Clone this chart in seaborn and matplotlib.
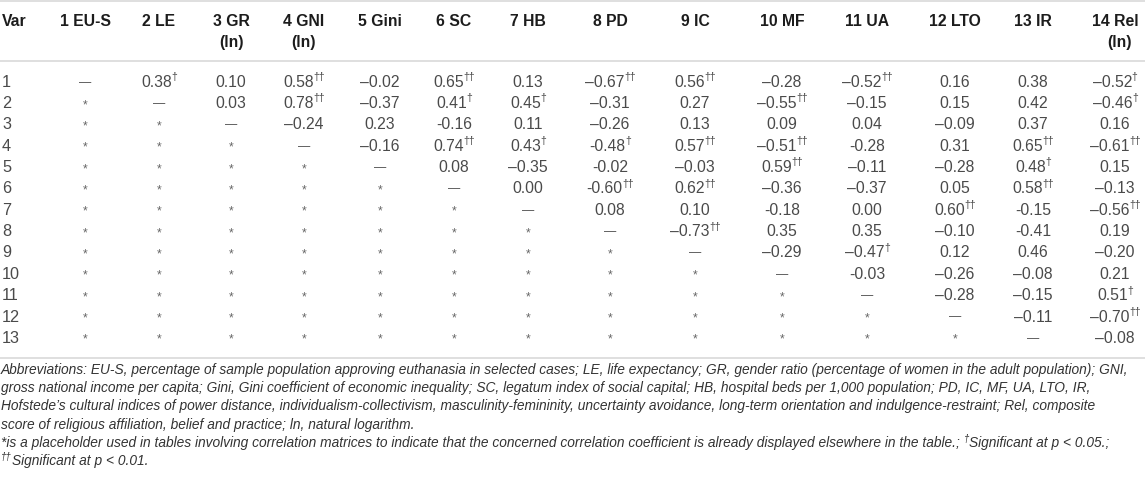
import matplotlib
matplotlib.use("Agg")
import matplotlib.pyplot as plt
import seaborn as sns

sns.set_theme(style="white")
plt.rcParams['font.family'] = ['Liberation Sans', 'DejaVu Sans']

# ---------------- data ----------------
var_labels = [str(i) for i in range(1, 14)]
col_labels = ["1 EU-S", "2 LE", "3 GR", "4 GNI", "5 Gini", "6 SC", "7 HB",
              "8 PD", "9 IC", "10 MF", "11 UA", "12 LTO", "13 IR", "14 Rel"]
col_sub = ["", "", "(ln)", "(ln)", "", "", "", "", "", "", "", "", "", "(ln)"]

# upper-triangle correlations: row i holds columns i+1 .. 14
r01 = [0.38, 0.10, 0.58, -0.02, 0.65, 0.13, -0.67, 0.56, -0.28, -0.52, 0.16, 0.38, -0.52]
r02 = [0.03, 0.78, -0.37, 0.41, 0.45, -0.31, 0.27, -0.55, -0.15, 0.15, 0.42, -0.46]
r03 = [-0.24, 0.23, -0.16, 0.11, -0.26, 0.13, 0.09, 0.04, -0.09, 0.37, 0.16]
r04 = [-0.16, 0.74, 0.43, -0.48, 0.57, -0.51, -0.28, 0.31, 0.65, -0.61]
r05 = [0.08, -0.35, -0.02, -0.03, 0.59, -0.11, -0.28, 0.48, 0.15]
r06 = [0.00, -0.60, 0.62, -0.36, -0.37, 0.05, 0.58, -0.13]
r07 = [0.08, 0.10, -0.18, 0.00, 0.60, -0.15, -0.56]
r08 = [-0.73, 0.35, 0.35, -0.10, -0.41, 0.19]
r09 = [-0.29, -0.47, 0.12, 0.46, -0.20]
r10 = [-0.03, -0.26, -0.08, 0.21]
r11 = [-0.28, -0.15, 0.51]
r12 = [-0.11, -0.70]
r13 = [-0.08]
corr_rows = [r01, r02, r03, r04, r05, r06, r07, r08, r09, r10, r11, r12, r13]

# significance: 0 none, 1 = p<0.05 (†), 2 = p<0.01 (††)
s01 = [1, 0, 2, 0, 2, 0, 2, 2, 0, 2, 0, 0, 1]
s02 = [0, 2, 0, 1, 1, 0, 0, 2, 0, 0, 0, 1]
s03 = [0, 0, 0, 0, 0, 0, 0, 0, 0, 0, 0]
s04 = [0, 2, 1, 1, 2, 2, 0, 0, 2, 2]
s05 = [0, 0, 0, 0, 2, 0, 0, 1, 0]
s06 = [0, 2, 2, 0, 0, 0, 2, 0]
s07 = [0, 0, 0, 0, 2, 0, 2]
s08 = [2, 0, 0, 0, 0, 0]
s09 = [0, 1, 0, 0, 0]
s10 = [0, 0, 0, 0]
s11 = [0, 0, 1]
s12 = [0, 2]
s13 = [0]
sig_rows = [s01, s02, s03, s04, s05, s06, s07, s08, s09, s10, s11, s12, s13]

# cells (row, col; 1-based) printed with an ASCII hyphen instead of an en dash
hyphen_cells = [(3, 6), (4, 8), (4, 11), (5, 8), (6, 8), (7, 10), (7, 13), (8, 13), (10, 11)]

notes = [
    "Abbreviations: EU-S, percentage of sample population approving euthanasia in selected cases; LE, life expectancy; GR, gender ratio (percentage of women in the adult population); GNI,",
    "gross national income per capita; Gini, Gini coefficient of economic inequality; SC, legatum index of social capital; HB, hospital beds per 1,000 population; PD, IC, MF, UA, LTO, IR,",
    "Hofstede\u2019s cultural indices of power distance, individualism-collectivism, masculinity-femininity, uncertainty avoidance, long-term orientation and indulgence-restraint; Rel, composite",
    "score of religious affiliation, belief and practice; ln, natural logarithm.",
]
foot1 = "*is a placeholder used in tables involving correlation matrices to indicate that the concerned correlation coefficient is already displayed elsewhere in the table.; "
foot1b = "Significant at p < 0.05.;"
foot2 = "Significant at p < 0.01."

# ---------------- layout ----------------
W, H = 1145, 484
col_x = [85, 159, 231, 304, 380, 454, 528, 610, 695, 782, 867, 955, 1033, 1115]
row_y0, row_dy = 81, 21.35
head_y1, head_y2 = 21, 43
rule_y = [1, 61, 358]
note_y0, note_dy = 370, 18.2

body_fs = 11.3
head_fs = 11.3
note_fs = 9.95
body_col = "#4a4a4a"
head_col = "#1c1c1c"
rule_col = "#d6d6d6"
note_col = "#333333"

fig = plt.figure(figsize=(W / 100, H / 100), dpi=100)
ax = fig.add_axes([0, 0, 1, 1])
ax.set_xlim(0, W)
ax.set_ylim(H, 0)
ax.axis("off")
renderer = fig.canvas.get_renderer()
PX = 100 / 72


def width_of(t):
    return t.get_window_extent(renderer).width


def cell(cx, cy, s, sig, fs=body_fs, color=body_col, dy=0.0):
    base = cy + 0.36 * body_fs * PX + dy
    t = ax.text(0, base, s, ha="left", va="baseline", fontsize=fs, color=color)
    w = width_of(t)
    if sig:
        d = ax.text(0, base - 0.42 * fs * PX, "\u2020" * sig, ha="left",
                    va="baseline", fontsize=fs * 0.66, color=color)
        wd = width_of(d)
        left = cx - (w + wd) / 2 + 0.5
        t.set_x(left)
        d.set_x(left + w - 0.5)
    else:
        t.set_x(cx - w / 2)


# rules
for ry in rule_y:
    ax.plot([0, W], [ry, ry], color=rule_col, lw=1.1, solid_capstyle="butt")

# header
ax.text(2, head_y1, "Var", ha="left", va="center", fontsize=head_fs,
        fontweight="bold", color=head_col)
for cx, lab, sub in zip(col_x, col_labels, col_sub):
    ax.text(cx, head_y1, lab, ha="center", va="center", fontsize=head_fs,
            fontweight="bold", color=head_col)
    if sub:
        ax.text(cx + 4 if lab.startswith("14") else cx, head_y2, sub, ha="center",
                va="center", fontsize=head_fs, fontweight="bold", color=head_col)

# body
for i, (lab, vals, sigs) in enumerate(zip(var_labels, corr_rows, sig_rows)):
    r = i + 1
    cy = row_y0 + i * row_dy
    ax.text(2, cy + 0.36 * body_fs * PX, lab, ha="left", va="baseline",
            fontsize=body_fs + 0.4, color=body_col)
    for c in range(1, 15):
        cx = col_x[c - 1]
        if c < r:
            cell(cx, cy, "*", 0, fs=body_fs * 0.78, color="#666666")
        elif c == r:
            cell(cx, cy, "\u2014", 0, fs=body_fs * 0.78, dy=-1.0)
        else:
            v = vals[c - r - 1]
            sg = sigs[c - r - 1]
            if v < 0:
                sign = "-" if (r, c) in hyphen_cells else "\u2013"
            else:
                sign = ""
            cell(cx, cy, f"{sign}{abs(v):.2f}", sg)

# notes
for k, line in enumerate(notes):
    ax.text(1, note_y0 + k * note_dy, line, ha="left", va="center",
            fontsize=note_fs, style="italic", color=note_col)

yf = note_y0 + 4 * note_dy
t1 = ax.text(1, yf, foot1, ha="left", va="center", fontsize=note_fs,
             style="italic", color=note_col)
x1 = 1 + width_of(t1)
d1 = ax.text(x1, yf - 4, "\u2020", ha="left", va="center", fontsize=note_fs * 0.7,
             style="italic", color=note_col)
x1 += width_of(d1)
ax.text(x1, yf, foot1b, ha="left", va="center", fontsize=note_fs,
        style="italic", color=note_col)

yf2 = note_y0 + 5 * note_dy
d2 = ax.text(1, yf2 - 4, "\u2020\u2020", ha="left", va="center", fontsize=note_fs * 0.7,
             style="italic", color=note_col)
ax.text(1 + width_of(d2), yf2, foot2, ha="left", va="center", fontsize=note_fs,
        style="italic", color=note_col)

fig.savefig("out.png", dpi=100)
